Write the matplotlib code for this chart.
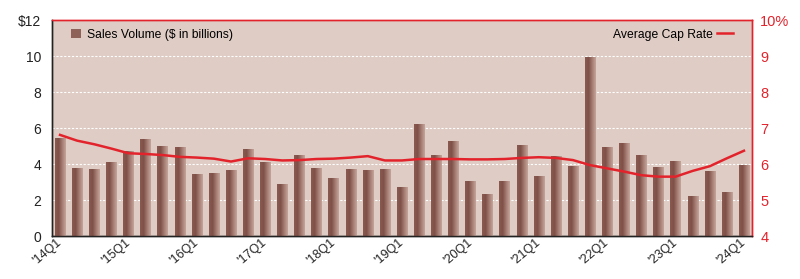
import numpy as np
import matplotlib
matplotlib.use('Agg')
import matplotlib.pyplot as plt
import matplotlib.transforms as mtransforms
from matplotlib.patches import Patch
from matplotlib.lines import Line2D
from matplotlib.colors import LinearSegmentedColormap

plt.rcParams['font.family'] = ['Liberation Sans', 'DejaVu Sans']

# quarterly sales volume, $ billions ('14Q1 .. '24Q1)
sales = [5.45, 3.8, 3.75, 4.1,
         4.75, 5.4, 5.0, 4.95,
         3.45, 3.5, 3.65, 4.85,
         4.1, 2.9, 4.5, 3.8,
         3.25, 3.7, 3.65, 3.75,
         2.7, 6.2, 4.5, 5.3,
         3.05, 2.35, 3.05, 5.05,
         3.35, 4.45, 3.9, 9.95,
         4.95, 5.15, 4.5, 3.85,
         4.15, 2.25, 3.6, 2.45,
         3.95]

# average cap rate, %
cap_rate = [6.81, 6.65, 6.55, 6.43,
            6.30, 6.28, 6.25, 6.20,
            6.18, 6.15, 6.07, 6.16,
            6.14, 6.10, 6.11, 6.14,
            6.15, 6.18, 6.22, 6.10,
            6.10, 6.14, 6.14, 6.14,
            6.13, 6.13, 6.14, 6.17,
            6.19, 6.17, 6.11, 5.97,
            5.88, 5.79, 5.69, 5.65,
            5.65, 5.81, 5.94, 6.16,
            6.37]

tick_labels = ["'14Q1", "'15Q1", "'16Q1", "'17Q1", "'18Q1", "'19Q1",
               "'20Q1", "'21Q1", "'22Q1", "'23Q1", "'24Q1"]

red = '#e3232c'
bg = '#dfccc4'
dark = '#222222'

fig = plt.figure(figsize=(8, 2.79), dpi=100)
ax = fig.add_axes([0.065, 0.154, 0.875, 0.774])
ax.set_facecolor(bg)

x = np.arange(len(sales))
bars = ax.bar(x, sales, width=0.6, color='#9c6e64', zorder=2)

# horizontal gradient on each bar
cmap = LinearSegmentedColormap.from_list('barg', ['#8a5a50', '#7e5048', '#a57c72', '#c4a49a'])
grad = np.linspace(0, 1, 64).reshape(1, -1)
for b in bars:
    bx, by = b.get_x(), b.get_y()
    w, h = b.get_width(), b.get_height()
    im = ax.imshow(grad, cmap=cmap, aspect='auto', extent=[bx, bx + w, by, by + h],
                   zorder=3, interpolation='bilinear')
    im.set_clip_path(b)

ax.set_xlim(-0.47, 40.47)
ax.set_ylim(0, 12)
ax.set_yticks(range(0, 13, 2))
ax.set_yticklabels(['0', '2', '4', '6', '8', '10', '$12'])
ax.set_xticks(range(0, 41, 4))
ax.set_xticklabels(tick_labels, rotation=40, ha='right', va='center',
                   rotation_mode='anchor', fontsize=9)
offset = mtransforms.ScaledTranslation(5 / 100, -7 / 100, fig.dpi_scale_trans)
for lbl in ax.get_xticklabels():
    lbl.set_transform(lbl.get_transform() + offset)
ax.tick_params(axis='both', length=0, colors=dark)
ax.tick_params(axis='y', labelsize=10, pad=8)
ax.grid(axis='y', color='white', linestyle=(0, (2, 1.5)), linewidth=0.8, zorder=1)
ax.set_axisbelow(True)

ax2 = ax.twinx()
ax2.plot(x, cap_rate, color=red, linewidth=1.8, zorder=5)
ax2.set_ylim(4, 10)
ax2.set_yticks(range(4, 11))
ax2.set_yticklabels(['4', '5', '6', '7', '8', '9', '10%'])
ax2.tick_params(axis='y', length=0, labelsize=10.5, colors=red, pad=6)

for a in (ax, ax2):
    a.spines['top'].set_color(red)
    a.spines['right'].set_color(red)
    a.spines['left'].set_color(dark)
    a.spines['bottom'].set_color(dark)
    for s in a.spines.values():
        s.set_linewidth(1.0)

ax.legend(handles=[Patch(facecolor='#8e6258', edgecolor='none')],
          labels=['Sales Volume ($ in billions)'], loc='upper left',
          frameon=False, fontsize=8.7, handlelength=0.8, handleheight=0.8,
          handletextpad=0.5, borderaxespad=0.3, bbox_to_anchor=(0.015, 1.0))
ax2.legend(handles=[Line2D([], [], color=red, linewidth=1.8)],
           labels=['Average Cap Rate'], loc='upper right', frameon=False,
           fontsize=8.7, markerfirst=False, handlelength=1.3, handletextpad=0.4,
           borderaxespad=0.3, bbox_to_anchor=(0.985, 1.0))

fig.savefig('out.png', dpi=100, facecolor='white')
